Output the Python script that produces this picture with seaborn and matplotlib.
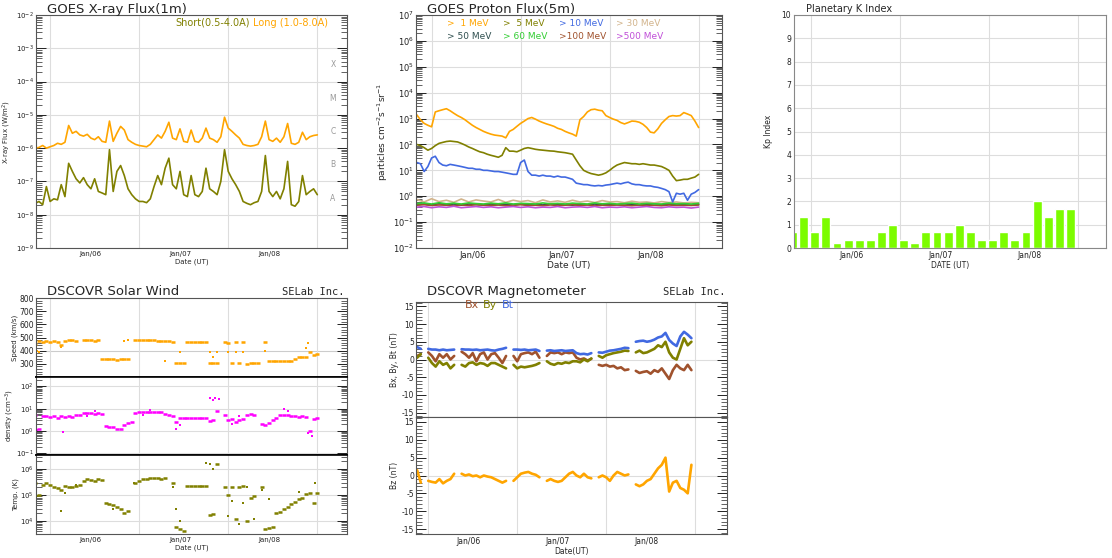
import numpy as np
import pandas as pd
import seaborn as sns
import matplotlib.pyplot as plt
from matplotlib.ticker import FixedLocator, LogLocator, MultipleLocator, NullFormatter

nan = np.nan

# sample times, hours after Jan 05 00:00 UT
HOURS = list(range(9, 86))        # hourly samples
HOURS_2H = list(range(9, 86, 2))  # two-hourly samples
MAG_HOURS = list(range(10, 85))

DAY_TICKS = [24, 48, 72]
DAY_LABELS = ['Jan/06', 'Jan/07', 'Jan/08']
GRID_HOURS = [13, 37, 61, 85]

# GOES X-ray flux, long channel in 1e-6 W/m2, short channel in 1e-8 W/m2
XRAY_LONG = [1.0, 1.05, 1.2, 1.0, 1.1, 1.2, 1.4, 1.3, 1.5, 4.8,
             2.8, 3.2, 2.5, 2.3, 2.6, 2.0, 1.8, 2.2, 1.6, 1.5,
             6.5, 1.6, 2.8, 4.5, 3.5, 1.8, 1.5, 1.3, 1.2, 1.15,
             1.1, 1.3, 1.8, 2.5, 2.0, 3.2, 6.0, 2.0, 1.8, 3.8,
             1.6, 1.5, 3.5, 1.6, 1.5, 2.0, 4.0, 2.0, 1.8, 1.5,
             2.2, 8.5, 4.0, 3.2, 2.5, 2.0, 1.3, 1.2, 1.15, 1.2,
             1.3, 2.2, 6.5, 1.8, 1.6, 2.0, 1.5, 2.2, 5.5, 1.4,
             1.3, 1.5, 3.0, 1.8, 2.2, 2.4, 2.5]
XRAY_SHORT = [2.2, 2.5, 2.0, 7.0, 2.5, 3.0, 2.8, 8.0, 3.5, 35,
              20, 12, 9, 13, 8, 6, 12, 5, 4.5, 4.0,
              90, 5, 20, 30, 15, 6, 4, 3, 2.5, 2.5,
              2.3, 3.0, 7, 15, 8, 25, 50, 8, 6, 20,
              4, 3.5, 15, 4, 3.5, 5, 25, 6, 5, 4,
              10, 90, 20, 12, 8, 5, 2.5, 2.2, 2.0, 2.3,
              2.5, 5, 60, 5, 3.5, 5, 3, 6, 40, 2.0,
              1.8, 2.5, 15, 4, 5, 6, 4]
FLARE_CLASSES = ['A', 'B', 'C', 'M', 'X']
FLARE_LEVELS = [1e-8, 1e-7, 1e-6, 1e-5, 1e-4]

# GOES integral proton flux
P1 = [1400, 900, 650, 550, 480, 1800, 2000, 2200, 2400, 2000,
      1600, 1300, 1100, 900, 700, 550, 450, 380, 320, 280,
      250, 230, 220, 210, 180, 320, 380, 500, 650, 800,
      1000, 1100, 950, 800, 700, 620, 560, 500, 420, 380,
      320, 280, 250, 210, 900, 1200, 1800, 2200, 2300, 2100,
      2000, 1300, 1100, 950, 850, 700, 620, 700, 800, 780,
      720, 600, 450, 300, 280, 400, 650, 900, 1200, 1300,
      1250, 1300, 1700, 1500, 1300, 800, 450]
P5 = [100, 90, 75, 60, 70, 90, 110, 120, 130, 135,
      130, 125, 110, 95, 80, 70, 60, 52, 48, 42,
      38, 35, 32, 38, 75, 55, 55, 52, 60, 70,
      75, 70, 65, 62, 60, 58, 56, 55, 52, 50,
      48, 45, 42, 25, 15, 10, 8.5, 7.5, 7, 6.5,
      7, 8, 10, 13, 16, 18, 20, 19, 18, 18,
      17, 18, 17, 16, 16, 15, 14, 12, 10, 6,
      4, 4.2, 4.5, 4.5, 5, 5.5, 7]
P10 = [20, 18, 9, 14, 30, 35, 20, 16, 15, 17,
       16, 15, 14, 13, 12, 12, 11, 11, 10, 10,
       9.5, 9, 9, 8.5, 8, 7.5, 7, 7, 20, 25,
       9, 6.5, 6.5, 6, 6.5, 6, 6, 5.5, 6, 5.5,
       5.5, 5, 4.5, 3.2, 3, 2.8, 2.8, 2.6, 2.5, 2.6,
       2.5, 2.7, 2.8, 3, 3.2, 3, 3.3, 3.5, 3, 2.8,
       2.8, 2.6, 2.5, 2.5, 2.3, 2.2, 2, 1.8, 1.5, 0.6,
       1.3, 1.2, 1.3, 0.7, 1.2, 1.4, 1.8]
P30 = [0.75, 0.6, 0.8, 0.62, 0.7, 0.58, 0.78, 0.6, 0.72, 0.65,
       0.6, 0.75, 0.58, 0.7, 0.62, 0.68, 0.56, 0.72, 0.6, 0.66,
       0.58, 0.7, 0.6, 0.65, 0.57, 0.68, 0.6, 0.62, 0.56, 0.64,
       0.58, 0.6, 0.55, 0.62, 0.57, 0.6, 0.55, 0.58, 0.56]
P50 = [0.48, 0.5, 0.46, 0.52, 0.47, 0.5, 0.45, 0.5, 0.48, 0.46,
       0.5, 0.47, 0.49, 0.45, 0.5, 0.47, 0.48, 0.46, 0.5, 0.47,
       0.48, 0.45, 0.49, 0.47, 0.5, 0.46, 0.48, 0.47, 0.45, 0.49,
       0.46, 0.48, 0.45, 0.47, 0.49, 0.46, 0.47, 0.45, 0.48]
P60 = [0.52, 0.55, 0.5, 0.56, 0.51, 0.54, 0.5, 0.55, 0.52, 0.5,
       0.54, 0.51, 0.55, 0.5, 0.53, 0.52, 0.5, 0.55, 0.51, 0.53,
       0.5, 0.54, 0.52, 0.5, 0.55, 0.51, 0.53, 0.5, 0.52, 0.54,
       0.5, 0.53, 0.51, 0.5, 0.54, 0.51, 0.52, 0.5, 0.53]
P100 = [0.45, 0.47, 0.44, 0.46, 0.45, 0.43, 0.46, 0.44, 0.47, 0.45,
        0.44, 0.46, 0.43, 0.45, 0.47, 0.44, 0.45, 0.43, 0.46, 0.44,
        0.45, 0.47, 0.44, 0.46, 0.43, 0.45, 0.44, 0.46, 0.45, 0.43,
        0.46, 0.44, 0.45, 0.43, 0.46, 0.44, 0.45, 0.44, 0.46]
P500 = [0.38, 0.4, 0.36, 0.39, 0.37, 0.41, 0.36, 0.38, 0.4, 0.37,
        0.39, 0.36, 0.38, 0.4, 0.37, 0.39, 0.36, 0.38, 0.37, 0.4,
        0.36, 0.38, 0.39, 0.37, 0.4, 0.36, 0.38, 0.37, 0.39, 0.36,
        0.38, 0.4, 0.37, 0.36, 0.39, 0.37, 0.38, 0.35, 0.38]
PROTON_LABELS = ['>  1 MeV', '>  5 MeV', '> 10 MeV', '> 30 MeV',
                 '> 50 MeV', '> 60 MeV', '>100 MeV', '>500 MeV']

# planetary K index, 3-hour bars
KP_HOURS = [8, 11, 14, 17, 20, 23, 26, 29, 32, 35, 38, 41, 44,
            47, 50, 53, 56, 59, 62, 65, 68, 71, 74, 77, 80, 83]
KP_VALUES = [0.67, 1.33, 0.67, 1.33, 0.2, 0.33, 0.33, 0.33, 0.67, 1.0, 0.33, 0.2, 0.67,
             0.67, 0.67, 1.0, 0.67, 0.33, 0.33, 0.67, 0.33, 0.67, 2.0, 1.33, 1.67, 1.67]

# DSCOVR solar wind (hourly, nan = no data)
SPEED = [450, 470, 465, 470, 468, 472, 465, 440, 475, 478,
         478, 475, nan, 480, 478, 478, 476, 478, 335, 335,
         333, 335, 332, 336, 335, 338, nan, 480, 482, 483,
         482, 480, 478, 476, 474, 472, 470, 468, 310, 308,
         310, 465, 465, 466, 465, 465, 463, 305, 303, 305,
         nan, 465, 462, 305, 465, 303, 465, 302, 305, 304,
         305, nan, 465, 318, 318, 320, 320, 322, 320, 325,
         340, 355, 352, 350, 390, 370, 375]
SPEED_EXTRA_H = [9.5, 10, 16, 33, 34, 44, 48, 56, 57, 58, 61, 63, 65, 71, 82, 82.5]
SPEED_EXTRA_V = [400, 390, 425, 475, 478, 320, 390, 390, 350, 390, 390, 390, 390, 400, 420, 460]

DENSITY = [5, 1.3, 4.5, 4.5, 4.2, 4.5, 4.0, 4.5, 4.3, 4.5,
           4.4, 5, 5.5, 6.5, 6.5, 6.5, 6, 6.5, 6, 1.7,
           1.6, 1.5, 1.3, 1.2, 1.8, 2.2, 2.5, 6.5, 7, 7,
           7.5, 7.5, 7, 7, 7, 6, 5, 4.5, 2.5, 4,
           4, 4, 4, 4, 4, 4, 4, 2.8, 3, 8,
           nan, 5, 3, 3.5, 2.5, 3, 3.5, 5, 6, 5,
           nan, 2, 1.8, 2.2, 3, 4, 5, 5.5, 5, 4.5,
           4.5, 4.2, 4.5, 4.2, 1, 3.5, 4]
DENS_EXTRA_H = [9.5, 16.5, 23, 25, 38, 40, 47, 48, 56, 57, 57.5, 58.5, 62, 64, 76, 77, 82.5, 83.5]
DENS_EXTRA_V = [1.1, 0.9, 4.5, 8, 5, 8.5, 1.2, 1.8, 30, 25, 30, 28, 2, 4.5, 10, 8, 0.8, 0.6]

TEMP = [3e5, 1e5, 2.5e5, 2.8e5, 2.5e5, 2e5, 1.8e5, 1.5e5, 2.2e5, 2e5,
        2.1e5, 2.2e5, 2.5e5, 3.5e5, 4e5, 3.8e5, 3.5e5, 4.2e5, 3.8e5, 5e4,
        4.5e4, 4e4, 3.5e4, 3e4, 2e4, 2.5e4, nan, 3e5, 3.5e5, 4e5,
        4.2e5, 4.5e5, 4.5e5, 4.4e5, 4.3e5, 4.5e5, nan, 2.8e5, 6e3, 5e3,
        4e3, 2.2e5, 2.2e5, 2.2e5, 2.2e5, 2.2e5, 2.2e5, 1.7e4, 1.8e4, 1.6e6,
        nan, 2e5, 1e5, 2e5, 1.2e4, 2e5, 2.2e5, 1e4, 8e4, 9e4,
        nan, 2e5, 5e3, 5.5e3, 6e3, 2e4, 2.2e4, 3e4, 3.5e4, 4.5e4,
        5.5e4, 7e4, 8e4, 1.1e5, 1.2e5, 5e4, 1.2e5]
TEMP_EXTRA_H = [9.5, 16, 17, 20, 30, 35.5, 46, 47, 48, 55, 56, 57, 61, 62, 64, 65, 66, 68, 70, 72, 80, 84.5]
TEMP_EXTRA_V = [9e4, 2.5e4, 1.2e5, 2.5e5, 3e4, 3e5, 2e5, 3e4, 1e4, 1.7e6, 1.6e6, 1e6,
                1.5e4, 6e4, 8e3, 5e4, 2e5, 1.2e4, 1.5e5, 7e4, 1.3e5, 3e5]

# DSCOVR magnetometer, nT (hourly, nan = no data)
BT = [3.5, 3.0, nan, 3.0, 2.8, 2.8, 2.6, 2.8, 2.6, 2.7,
      2.8, nan, 2.9, 2.8, 2.8, 2.7, 2.8, 2.6, 2.7, 2.8,
      2.6, 2.5, 2.8, 3.0, 3.3, nan, 2.8, 2.8, 2.7, 2.8,
      2.6, 2.7, 2.8, 2.4, nan, 2.5, 2.6, 2.4, 2.5, 2.6,
      2.4, 2.5, 2.6, 1.8, 1.5, 1.6, 1.4, 1.8, nan, 2.0,
      1.9, 2.2, 2.5, 2.6, 2.8, 3.0, 3.3, 3.2, nan, 5.0,
      5.2, 5.3, 5.0, 5.2, 5.6, 6.2, 6.5, 7.5, 5.5, 4.5,
      3.8, 6.5, 7.8, 7.0, 6.0]
BX = [1.0, 1.5, nan, 2.0, 1.0, -0.5, 1.5, 0.5, 1.5, 0.0,
      1.0, nan, 2.2, 1.5, 0.5, 1.8, -0.5, 1.5, 2.0, 0.0,
      1.5, 1.8, 0.5, -1.0, 1.0, nan, 1.0, -0.5, 1.5, 1.8,
      2.0, 1.5, 2.2, 0.5, nan, 1.0, 2.0, 1.8, 2.0, 1.5,
      2.0, 1.8, 2.0, 0.5, 0.0, 0.3, -0.3, 0.2, nan, -1.5,
      -1.8, -1.5, -2.0, -1.8, -2.5, -2.2, -3.0, -2.8, nan, -3.2,
      -3.8, -3.5, -3.3, -4.0, -3.0, -3.5, -2.5, -4.0, -5.5, -3.0,
      -1.5, -2.5, -3.0, -1.5, -3.0]
BY = [0.5, 1.5, nan, 0.5, -1.0, -2.0, -0.5, -1.5, -1.0, -2.5,
      -1.5, nan, -1.5, -2.0, -1.0, -0.8, -1.5, -1.0, -1.2, -1.8,
      -1.0, -1.0, -1.5, -2.0, -2.5, nan, -1.5, -2.5, -2.0, -2.2,
      -2.0, -1.8, -1.5, -1.0, nan, -0.5, -1.2, -1.5, -1.0, -1.2,
      -0.8, -1.0, -0.5, -0.5, -0.8, 0.0, -0.5, 0.3, nan, 1.0,
      0.5, 1.2, 1.5, 1.8, 2.0, 2.2, 2.5, 2.4, nan, 2.0,
      2.5, 1.8, 2.0, 2.5, 3.0, 4.0, 3.5, 5.0, 2.0, 0.5,
      0.0, 3.0, 6.0, 4.0, 5.0]
BZ = [1.5, -2.0, nan, -1.5, -1.8, -2.0, -1.0, -2.2, -1.5, -1.0,
      0.5, nan, 0.5, 0.0, 0.3, -0.2, 0.0, -0.5, 0.0, -0.3,
      -0.5, -1.0, -1.5, -2.0, -1.5, nan, -1.5, -0.5, 0.5, 0.8,
      1.0, 0.5, 0.2, -0.5, nan, -1.5, -1.0, -1.5, -1.8, -1.5,
      -0.5, 0.5, 1.0, 0.0, -0.5, 0.5, -0.5, -0.8, nan, -0.5,
      0.0, -0.5, -1.5, 0.0, 1.0, 0.5, 0.0, 0.3, nan, -2.5,
      -3.0, -2.5, -1.5, -1.0, 0.5, 2.0, 3.0, 5.0, -4.5, -2.0,
      -1.5, -3.5, -4.0, -5.0, 3.0]

ORANGE = '#ffa500'
OLIVE = '#808000'
BLUE = '#4169e1'
TAN = '#d2b48c'
SLATE = '#2f4f4f'
GREEN = '#32cd32'
SIENNA = '#a0522d'
VIOLET = '#c04fd8'
MAGENTA = '#ff00ff'
LAWN = '#7cfc00'
PROTON_COLORS = [ORANGE, OLIVE, BLUE, TAN, SLATE, GREEN, SIENNA, VIOLET]

sns.set_theme(style="white")
plt.rcParams['font.family'] = ['DejaVu Sans']
plt.rcParams['axes.unicode_minus'] = False

W, H = 1112, 558


def box(left, top, right, bottom):
    """Pixel box -> figure fraction rect."""
    return [left / W, 1 - bottom / H, (right - left) / W, (bottom - top) / H]


def base_axes(ax, xlim, size=5, xlabels=True):
    for side in ax.spines.values():
        side.set_color('#555555')
        side.set_linewidth(0.8)
    ax.set_xlim(*xlim)
    ax.set_xticks(DAY_TICKS)
    ax.set_xticklabels(DAY_LABELS if xlabels else [])
    ax.set_xticks(GRID_HOURS, minor=True)
    ax.grid(axis='x', which='minor', color='#dddddd', lw=0.8)
    ax.tick_params(axis='x', which='both', length=0, labelsize=size, pad=2, colors='#222222')
    ax.tick_params(axis='y', which='both', direction='in', left=True, right=True,
                   labelsize=size, pad=1.5, colors='#222222')
    ax.tick_params(axis='y', which='major', length=7, width=0.7)
    ax.tick_params(axis='y', which='minor', length=4, width=0.5)
    ax.set_xlabel('')
    ax.set_ylabel('')


def log_y(ax, lo, hi):
    ax.set_yscale('log')
    ax.set_ylim(lo, hi)
    ax.yaxis.set_major_locator(LogLocator(base=10, numticks=30))
    ax.yaxis.set_minor_locator(LogLocator(base=10, subs=np.arange(2, 10), numticks=30))
    ax.yaxis.set_minor_formatter(NullFormatter())
    ax.grid(axis='y', which='major', color='#dddddd', lw=0.8)


def line(ax, x, y, color, lw=1.2):
    sns.lineplot(x=x, y=y, color=color, lw=lw, estimator=None, ax=ax)


def broken_line(ax, x, values, color, lw=1.9):
    v = np.array(values, dtype=float)
    df = pd.DataFrame({'hour': x, 'value': v, 'seg': np.isnan(v).cumsum()})
    sns.lineplot(data=df, x='hour', y='value', units='seg', estimator=None,
                 color=color, lw=lw, ax=ax)


def dashes(ax, x, y, color):
    # short horizontal strokes so hourly samples read as a dotted band
    sns.scatterplot(x=x, y=y, color=color, s=10, marker='_', linewidth=1.8, ax=ax)


def dots(ax, x, y, color):
    sns.scatterplot(x=x, y=y, color=color, s=2.5, marker='s', linewidth=0, ax=ax)


fig = plt.figure(figsize=(W / 100, H / 100), dpi=100)

# ---- GOES X-ray flux
ax = fig.add_axes(box(36, 15, 347, 248))
line(ax, HOURS, np.array(XRAY_LONG) * 1e-6, ORANGE)
line(ax, HOURS, np.array(XRAY_SHORT) * 1e-8, OLIVE)
log_y(ax, 1e-9, 1e-2)
base_axes(ax, (9.2, 93.0))
ax.set_xlabel('Date (UT)', fontsize=5, labelpad=1)
ax.set_ylabel('X-ray Flux (W/m$^2$)', fontsize=5, labelpad=2)
ax.text(0.035, 1.01, 'GOES X-ray Flux(1m)', transform=ax.transAxes, fontsize=9.5, va='baseline')
ax.text(0.447, 0.953, 'Short(0.5-4.0A)', color=OLIVE, transform=ax.transAxes, fontsize=7, va='baseline')
ax.text(0.698, 0.953, 'Long (1.0-8.0A)', color=ORANGE, transform=ax.transAxes, fontsize=7, va='baseline')
for level, name in zip(FLARE_LEVELS, FLARE_CLASSES):
    ax.text(0.955, level * 10 ** 0.5, name, transform=ax.get_yaxis_transform(),
            color='#999999', fontsize=5.5, ha='center', va='center')

# ---- GOES proton flux
ax = fig.add_axes(box(416, 15, 722, 248))
for vals, c in [(P30, TAN), (P50, SLATE), (P100, SIENNA), (P60, GREEN), (P500, VIOLET)]:
    line(ax, HOURS_2H, vals, c, lw=1.2)
line(ax, HOURS, P10, BLUE)
line(ax, HOURS, P5, OLIVE)
line(ax, HOURS, P1, ORANGE)
log_y(ax, 1e-2, 1e7)
base_axes(ax, (8.8, 91.3), size=6)
ax.set_xlabel('Date (UT)', fontsize=6.5, labelpad=1)
ax.set_ylabel('particles cm$^{-2}$s$^{-1}$sr$^{-1}$', fontsize=6.5, labelpad=2)
ax.text(0.035, 1.01, 'GOES Proton Flux(5m)', transform=ax.transAxes, fontsize=9.5, va='baseline')
for i, (lab, c) in enumerate(zip(PROTON_LABELS, PROTON_COLORS)):
    ax.text([0.1, 0.284, 0.467, 0.653][i % 4], [0.953, 0.896][i // 4], lab, color=c,
            transform=ax.transAxes, fontsize=6.5, va='baseline')

# ---- Planetary K index
ax = fig.add_axes(box(794, 15, 1106, 248))
sns.barplot(x=KP_HOURS, y=KP_VALUES, native_scale=True, color=LAWN, saturation=1,
            width=0.8, errorbar=None, ax=ax)
ax.set_xlim(8.4, 92.6)
ax.set_ylim(0, 10)
ax.set_yticks(range(0, 11))
ax.set_xticks(DAY_TICKS)
ax.set_xticklabels(DAY_LABELS)
ax.set_xticks(GRID_HOURS, minor=True)
ax.grid(axis='x', which='minor', color='#dddddd', lw=0.8)
ax.grid(axis='y', which='major', color='#dddddd', lw=0.8)
ax.set_axisbelow(True)
ax.tick_params(axis='both', which='both', length=0, labelsize=5.5, pad=2, colors='#222222')
for side in ax.spines.values():
    side.set_color('#888888')
    side.set_linewidth(0.8)
ax.set_xlabel('DATE (UT)', fontsize=5.5, labelpad=1)
ax.set_ylabel('Kp Index', fontsize=5.5, labelpad=6)
ax.text(0.04, 1.014, 'Planetary K Index', transform=ax.transAxes, fontsize=7, va='baseline')

# ---- DSCOVR solar wind
SW_XLIM = (9.2, 93.0)
ax_v = fig.add_axes(box(36, 298, 347, 377))
dots(ax_v, SPEED_EXTRA_H, SPEED_EXTRA_V, ORANGE)
dashes(ax_v, HOURS, SPEED, ORANGE)
base_axes(ax_v, SW_XLIM, size=5.5, xlabels=False)
ax_v.set_ylim(200, 800)
ax_v.yaxis.set_major_locator(FixedLocator([300, 400, 500, 600, 700, 800]))
ax_v.yaxis.set_minor_locator(MultipleLocator(20))
ax_v.axhline(400, color='#cccccc', lw=0.8, zorder=0)
ax_v.set_ylabel('Speed (km/s)', fontsize=5, labelpad=1)

ax_n = fig.add_axes(box(36, 377, 347, 455))
dots(ax_n, DENS_EXTRA_H, DENS_EXTRA_V, MAGENTA)
dashes(ax_n, HOURS, DENSITY, MAGENTA)
log_y(ax_n, 10 ** -1.07, 10 ** 2.42)
base_axes(ax_n, SW_XLIM, size=5, xlabels=False)
ax_n.set_ylabel('density (cm$^{-3}$)', fontsize=5, labelpad=0)

ax_t = fig.add_axes(box(36, 455, 347, 534))
dots(ax_t, TEMP_EXTRA_H, TEMP_EXTRA_V, OLIVE)
dashes(ax_t, HOURS, TEMP, OLIVE)
log_y(ax_t, 10 ** 3.5, 10 ** 6.54)
base_axes(ax_t, SW_XLIM, size=5)
ax_t.set_ylabel('Temp. (K)', fontsize=5, labelpad=1)
ax_t.set_xlabel('Date (UT)', fontsize=5, labelpad=1)

for a, sides in [(ax_v, ['bottom']), (ax_n, ['top', 'bottom']), (ax_t, ['top'])]:
    for s in sides:
        a.spines[s].set_color('black')
        a.spines[s].set_linewidth(1.2)

fig.text(47 / W, 1 - 295 / H, 'DSCOVR Solar Wind', fontsize=9.5, va='baseline')
fig.text(345 / W, 1 - 295 / H, 'SELab Inc.', family='DejaVu Sans Mono', fontsize=7.5,
         ha='right', va='baseline')

# ---- DSCOVR magnetometer
MAG_XLIM = (9.7, 93.6)
ax_b = fig.add_axes(box(416, 302, 727, 417))
broken_line(ax_b, MAG_HOURS, BX, SIENNA)
broken_line(ax_b, MAG_HOURS, BY, OLIVE)
broken_line(ax_b, MAG_HOURS, BT, BLUE)
base_axes(ax_b, MAG_XLIM, size=5.5, xlabels=False)
ax_b.set_ylim(-16.2, 16.2)
ax_b.set_ylabel('Bx, By, Bt (nT)', fontsize=5.5, labelpad=2)
ax_b.text(0.158, 0.948, 'Bx', color=SIENNA, transform=ax_b.transAxes, fontsize=8, va='baseline')
ax_b.text(0.216, 0.948, 'By', color=OLIVE, transform=ax_b.transAxes, fontsize=8, va='baseline')
ax_b.text(0.277, 0.948, 'Bt', color=BLUE, transform=ax_b.transAxes, fontsize=8, va='baseline')

ax_z = fig.add_axes(box(416, 417, 727, 534))
broken_line(ax_z, MAG_HOURS, BZ, ORANGE)
base_axes(ax_z, MAG_XLIM, size=5.5)
ax_z.set_ylim(-16.4, 16.4)
ax_z.set_ylabel('Bz (nT)', fontsize=5.5, labelpad=2)
ax_z.set_xlabel('Date(UT)', fontsize=5.5, labelpad=1)

for a in (ax_b, ax_z):
    a.yaxis.set_major_locator(MultipleLocator(5))
    a.yaxis.set_minor_locator(MultipleLocator(1))
    a.axhline(0, color='#dddddd', lw=0.8, zorder=0)

fig.text(427 / W, 1 - 295 / H, 'DSCOVR Magnetometer', fontsize=9.5, va='baseline')
fig.text(725 / W, 1 - 295 / H, 'SELab Inc.', family='DejaVu Sans Mono', fontsize=7.5,
         ha='right', va='baseline')

fig.savefig('out.png', dpi=100)
